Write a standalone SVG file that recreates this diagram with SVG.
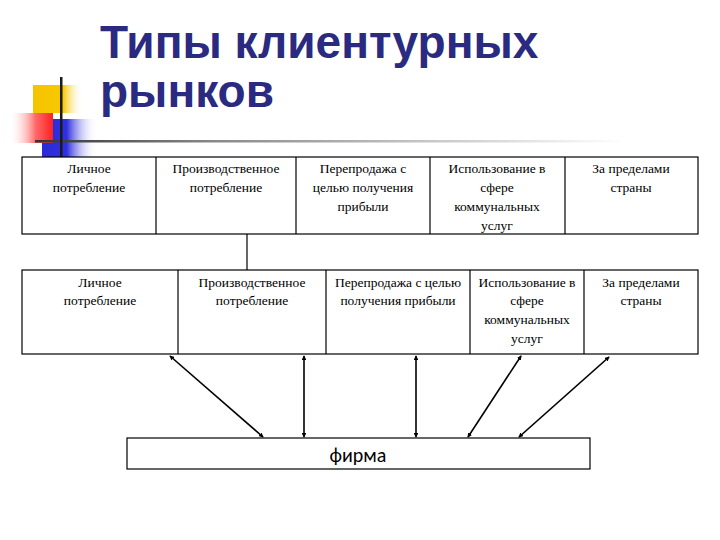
<svg xmlns="http://www.w3.org/2000/svg" width="720" height="540" viewBox="0 0 720 540">
<defs>
<linearGradient id="gy" x1="0" y1="0" x2="1" y2="0"><stop offset="0" stop-color="#f5c400"/><stop offset="0.6" stop-color="#f7c800"/><stop offset="1" stop-color="#fff" stop-opacity="0"/></linearGradient>
<linearGradient id="gr" x1="1" y1="0" x2="0" y2="0"><stop offset="0" stop-color="#ff2020"/><stop offset="0.4" stop-color="#ff6a6a"/><stop offset="1" stop-color="#fff" stop-opacity="0"/></linearGradient>
<linearGradient id="gb" x1="0" y1="0" x2="1" y2="0"><stop offset="0" stop-color="#2a2ad8"/><stop offset="0.45" stop-color="#3030e0"/><stop offset="1" stop-color="#fff" stop-opacity="0"/></linearGradient>
<linearGradient id="gl" x1="0" y1="0" x2="1" y2="0"><stop offset="0" stop-color="#333"/><stop offset="0.3" stop-color="#888"/><stop offset="1" stop-color="#fff"/></linearGradient>
<marker id="ah" viewBox="0 0 6 6" refX="5" refY="3" markerWidth="3" markerHeight="3" orient="auto-start-reverse"><path d="M0,0 L6,3 L0,6 z" fill="#000"/></marker>
</defs>
<style>
.t{font-family:"Liberation Serif","Times New Roman",serif;font-size:13.5px;fill:#000;text-anchor:middle}
.box{fill:#fff;stroke:#000;stroke-width:1.2}
.c{stroke:#000;stroke-width:1.6;fill:none;marker-start:url(#ah);marker-end:url(#ah)}
.title{font-family:"Liberation Sans",Arial,sans-serif;font-weight:bold;font-size:46px;fill:#2a2a80}
</style>
<rect width="720" height="540" fill="#fff"/>
<g id="decor">
<rect x="33" y="85" width="50" height="28" fill="url(#gy)"/>
<rect x="42" y="119" width="55" height="38" fill="url(#gb)"/>
<rect x="9" y="113" width="44" height="30" fill="url(#gr)"/>
<rect x="35" y="140" width="590" height="2.5" fill="url(#gl)"/>
<rect x="60" y="77" width="2.5" height="83" fill="#1a1a1a"/>
</g>
<g id="title">
<text class="title" x="100" y="58">Типы клиентурных</text>
<text class="title" x="100" y="107">рынков</text>
</g>
<g id="row1">
<rect class="box" x="22" y="157" width="676" height="77"/>
<line x1="156" y1="157" x2="156" y2="234" stroke="#000" stroke-width="1.2"/>
<line x1="296" y1="157" x2="296" y2="234" stroke="#000" stroke-width="1.2"/>
<line x1="430" y1="157" x2="430" y2="234" stroke="#000" stroke-width="1.2"/>
<line x1="565" y1="157" x2="565" y2="234" stroke="#000" stroke-width="1.2"/>
</g>
<g id="r1c1"><text class="t" x="89" y="173">Личное</text><text class="t" x="89" y="192">потребление</text></g>
<g id="r1c2"><text class="t" x="226" y="173">Производственное</text><text class="t" x="226" y="192">потребление</text></g>
<g id="r1c3"><text class="t" x="363" y="173">Перепродажа с</text><text class="t" x="363" y="192">целью получения</text><text class="t" x="363" y="211">прибыли</text></g>
<g id="r1c4"><text class="t" x="497" y="173">Использование в</text><text class="t" x="497" y="192">сфере</text><text class="t" x="497" y="211">коммунальных</text><text class="t" x="497" y="230">услуг</text></g>
<g id="r1c5"><text class="t" x="631" y="173">За пределами</text><text class="t" x="631" y="192">страны</text></g>
<g id="row2">
<rect class="box" x="22" y="270" width="676" height="84"/>
<line x1="178" y1="270" x2="178" y2="354" stroke="#000" stroke-width="1.2"/>
<line x1="326" y1="270" x2="326" y2="354" stroke="#000" stroke-width="1.2"/>
<line x1="470" y1="270" x2="470" y2="354" stroke="#000" stroke-width="1.2"/>
<line x1="584" y1="270" x2="584" y2="354" stroke="#000" stroke-width="1.2"/>
</g>
<g id="r2c1"><text class="t" x="100" y="287">Личное</text><text class="t" x="100" y="305">потребление</text></g>
<g id="r2c2"><text class="t" x="252" y="287">Производственное</text><text class="t" x="252" y="305">потребление</text></g>
<g id="r2c3"><text class="t" x="398" y="287">Перепродажа с целью</text><text class="t" x="398" y="305">получения прибыли</text></g>
<g id="r2c4"><text class="t" x="527" y="287">Использование в</text><text class="t" x="527" y="305">сфере</text><text class="t" x="527" y="324">коммунальных</text><text class="t" x="527" y="343">услуг</text></g>
<g id="r2c5"><text class="t" x="641" y="287">За пределами</text><text class="t" x="641" y="305">страны</text></g>
<g id="firma">
<rect class="box" x="127" y="438" width="463" height="31"/>
<text x="358" y="462" font-family="Carlito,'Liberation Sans',sans-serif" font-size="20" text-anchor="middle" fill="#000">фирма</text>
</g>
<g id="connectors">
<line x1="247" y1="234" x2="247" y2="270" stroke="#000" stroke-width="1.2"/>
<line class="c" x1="263" y1="437" x2="170" y2="356"/>
<line class="c" x1="304" y1="437" x2="304" y2="356"/>
<line class="c" x1="416" y1="437" x2="416" y2="356"/>
<line class="c" x1="468" y1="437" x2="521" y2="356"/>
<line class="c" x1="519" y1="437" x2="609" y2="357"/>
</g>
</svg>
